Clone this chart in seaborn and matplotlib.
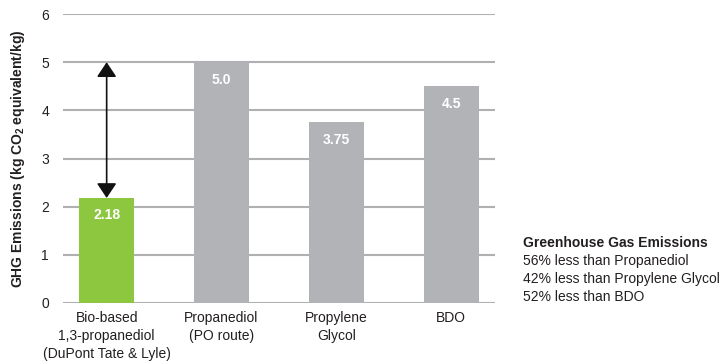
import matplotlib
matplotlib.use("Agg")
import pandas as pd
import seaborn as sns
import matplotlib.pyplot as plt

# Chart data
categories = ["Bio-based\n1,3-propanediol\n(DuPont Tate & Lyle)",
              "Propanediol\n(PO route)",
              "Propylene\nGlycol",
              "BDO"]
values = [2.18, 5.0, 3.75, 4.5]
value_labels = ["2.18", "5.0", "3.75", "4.5"]
bar_colors = ["#8dc63f", "#b1b3b6", "#b1b3b6", "#b1b3b6"]
y_ticks = [0, 1, 2, 3, 4, 5, 6]
note_title = "Greenhouse Gas Emissions"
note_lines = ["56% less than Propanediol",
              "42% less than Propylene Glycol",
              "52% less than BDO"]

df = pd.DataFrame({"product": categories, "ghg": values})

sns.set_style("white")
plt.rcParams["font.family"] = ["Liberation Sans", "DejaVu Sans"]
plt.rcParams["mathtext.fontset"] = "custom"
plt.rcParams["mathtext.rm"] = "Liberation Sans"
plt.rcParams["mathtext.bf"] = "Liberation Sans:bold"

fig = plt.figure(figsize=(7.2, 3.64), dpi=100)
ax = fig.add_axes([0.0875, 0.1676, 0.6, 0.7939])

sns.barplot(data=df, x="product", y="ghg", hue="product",
            palette=bar_colors, legend=False, width=0.48,
            saturation=1, linewidth=0, ax=ax, zorder=3)

ax.set_ylim(0, 6)
ax.set_xlim(-0.38, 3.38)
ax.set_yticks(y_ticks)
ax.yaxis.grid(True, color="#b0b0b2", linewidth=1.5, zorder=0)
ax.set_axisbelow(True)
for s in ax.spines.values():
    s.set_visible(False)
ax.tick_params(axis="both", length=0, labelsize=10, colors="#231f20")
ax.tick_params(axis="y", pad=10)
ax.tick_params(axis="x", pad=6)
for lbl in ax.get_xticklabels():
    lbl.set_linespacing(1.35)
ax.set_xlabel("")
ax.set_ylabel(r"GHG Emissions (kg CO$_\mathbf{2}$ equivalent/kg)",
              fontsize=10, fontweight="bold", color="#231f20", labelpad=10)

# value labels inside bars
for i, (v, t) in enumerate(zip(values, value_labels)):
    ax.text(i, v - 0.36, t, ha="center", va="center", color="white",
            fontsize=10, fontweight="bold", zorder=5)

# double-headed arrow between bio-based and propanediol
ax.annotate("", xy=(0, values[0]), xytext=(0, values[1]),
            arrowprops=dict(arrowstyle="<|-|>,head_length=0.45,head_width=0.3",
                            color="#111111", lw=1.2,
                            mutation_scale=20, shrinkA=0, shrinkB=0),
            zorder=6)

# side note
fig.text(0.726, 0.333, note_title, fontsize=10, fontweight="bold",
         color="#231f20", va="center")
for k, line in enumerate(note_lines):
    fig.text(0.726, 0.333 - (k + 1) * 0.0495, line, fontsize=10,
             color="#231f20", va="center")

plt.savefig("out.png", dpi=100)
